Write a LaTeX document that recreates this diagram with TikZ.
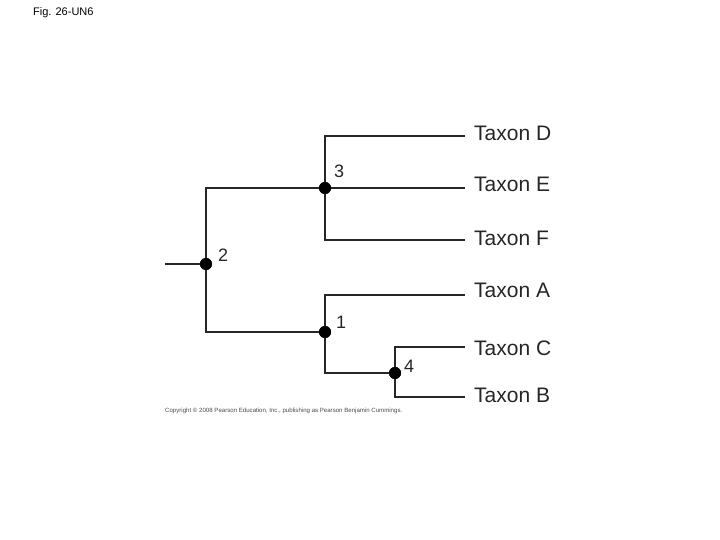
\documentclass[tikz,border=0pt]{standalone}
\usepackage{fontspec}
\setmainfont{Liberation Sans}
\begin{document}
\begin{tikzpicture}[x=1pt,y=-1pt,
  branch/.style={line width=1.8pt,color=black!85},
  dotnode/.style={circle,fill=black,inner sep=0pt,minimum size=12pt},
  taxon/.style={anchor=west,inner sep=0pt,font=\fontsize{21}{24}\selectfont,text=black!85},
  numlab/.style={anchor=west,inner sep=0pt,font=\fontsize{18}{20}\selectfont,text=black!85}]
\useasboundingbox (0,0) rectangle (720,540);
\fill[white] (0,0) rectangle (720,540);
\node[anchor=west,inner sep=0pt,font=\fontsize{11}{13}\selectfont] (title) at (33,13) {Fig. 26-UN6};
% internal nodes
\node[dotnode] (n2) at (206,264) {};
\node[dotnode] (n3) at (325,188) {};
\node[dotnode] (n1) at (325,332) {};
\node[dotnode] (n4) at (395,373) {};
\coordinate (root) at (165,264);
% taxon line ends
\coordinate (eD) at (465,136);
\coordinate (eE) at (465,188);
\coordinate (eF) at (465,240);
\coordinate (eA) at (465,295);
\coordinate (eC) at (465,347);
\coordinate (eB) at (465,397);
% edges
\draw[branch] (root) -- (n2.center);
\draw[branch] (n2.center) |- (n3.center);
\draw[branch] (n2.center) |- (n1.center);
\draw[branch] (n3.center) |- (eD);
\draw[branch] (n3.center) -- (eE);
\draw[branch] (n3.center) |- (eF);
\draw[branch] (n1.center) |- (eA);
\draw[branch] (n1.center) |- (n4.center);
\draw[branch] (n4.center) |- (eC);
\draw[branch] (n4.center) |- (eB);
\node[dotnode] at (n2) {};
\node[dotnode] at (n3) {};
\node[dotnode] at (n1) {};
\node[dotnode] at (n4) {};
% number labels
\node[numlab] (l3) at (334,171) {3};
\node[numlab] (l2) at (218,255) {2};
\node[numlab] (l1) at (336,322) {1};
\node[numlab] (l4) at (404,366) {4};
% taxon labels
\node[taxon] (tD) at (474,133) {Taxon D};
\node[taxon] (tE) at (474,184) {Taxon E};
\node[taxon] (tF) at (474,238) {Taxon F};
\node[taxon] (tA) at (474,290) {Taxon A};
\node[taxon] (tC) at (474,348) {Taxon C};
\node[taxon] (tB) at (474,395) {Taxon B};
\node[anchor=west,inner sep=0pt,font=\fontsize{6.1}{7}\selectfont,text=black!70] (copy) at (165,411) {Copyright \textcopyright\ 2008 Pearson Education, Inc., publishing as Pearson Benjamin Cummings.};
\end{tikzpicture}
\end{document}
